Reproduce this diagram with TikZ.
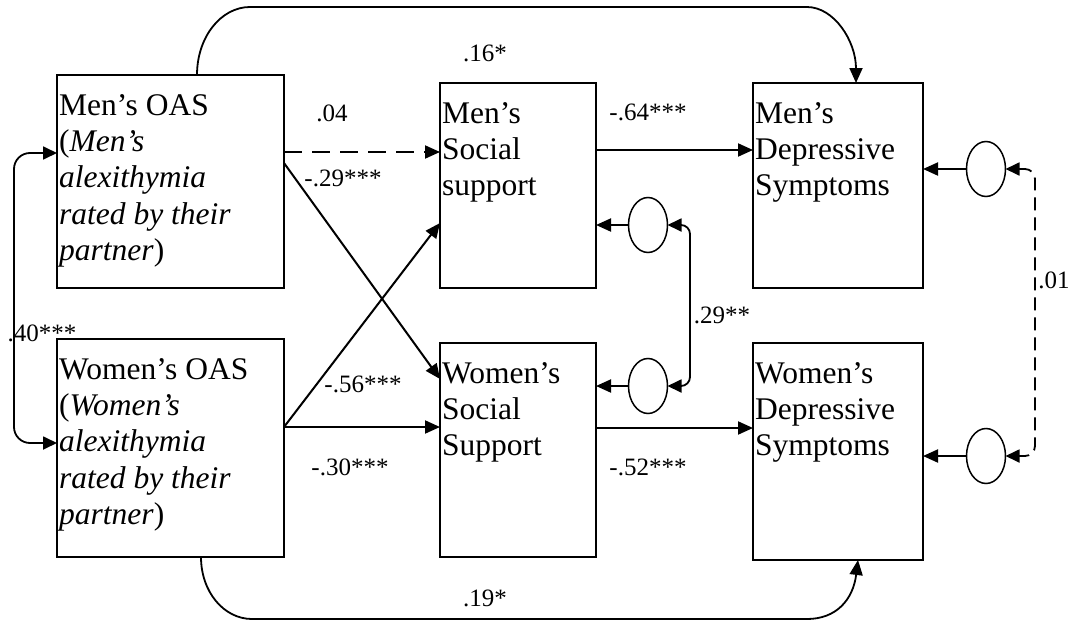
\documentclass[tikz,border=0pt]{standalone}
\usepackage{fontspec}
\setmainfont{Liberation Serif}
\usetikzlibrary{arrows.meta,shapes.geometric}
\begin{document}
\begin{tikzpicture}[x=1pt,y=-1pt,
  box/.style={draw, line width=2pt, rectangle, inner sep=0pt, outer sep=0pt},
  boxtext/.style={anchor=north west, inner sep=0pt, align=left,
    font=\fontsize{31.5}{36.3}\selectfont},
  lab/.style={inner sep=0pt, font=\fontsize{25}{30}\selectfont},
  err/.style={draw, ellipse, line width=1.5pt, minimum width=39pt,
    minimum height=55pt, inner sep=0pt, outer sep=0pt},
  tip/.style={-{Triangle[length=15pt,width=13pt]}},
  arr/.style={line width=2pt, tip},
  curvearr/.style={line width=1.8pt, tip},
  darr/.style={line width=1.8pt, {Triangle[length=14pt,width=13pt]}-{Triangle[length=14pt,width=13pt]}},
  longdash/.style={dash pattern=on 18pt off 10pt},
  shortdash/.style={dash pattern=on 13pt off 7pt}
]
\fill[white] (0,0) rectangle (1073,621);
\useasboundingbox (0,0) rectangle (1073,621);

% observed variables
\node[box, minimum width=227pt, minimum height=213pt] (MO) at (170.5,181.5) {};
\node[box, minimum width=227pt, minimum height=218pt] (WO) at (170.5,448) {};
\node[box, minimum width=156pt, minimum height=205pt] (MS) at (518,185.5) {};
\node[box, minimum width=156pt, minimum height=214pt] (WS) at (518,450) {};
\node[box, minimum width=170pt, minimum height=205pt] (MD) at (838,185.5) {};
\node[box, minimum width=170pt, minimum height=217pt] (WD) at (838,451.5) {};

% box captions
\node[boxtext] (MOt) at ([xshift=2pt,yshift=-14.5pt]MO.north west)
  {\strut Men’s OAS\\(\textit{Men’s}\\\textit{alexithymia}\\\textit{rated by their}\\\textit{partner})};
\node[boxtext] (WOt) at ([xshift=2pt,yshift=-14.5pt]WO.north west)
  {\strut Women’s OAS\\(\textit{Women’s}\\\textit{alexithymia}\\\textit{rated by their}\\\textit{partner})};
\node[boxtext] (MSt) at ([xshift=2pt,yshift=-14.5pt]MS.north west)
  {\strut Men’s\\Social\\support};
\node[boxtext] (WSt) at ([xshift=2pt,yshift=-14.5pt]WS.north west)
  {\strut Women’s\\Social\\Support};
\node[boxtext] (MDt) at ([xshift=2pt,yshift=-14.5pt]MD.north west)
  {\strut Men’s\\Depressive\\Symptoms};
\node[boxtext] (WDt) at ([xshift=2pt,yshift=-14.5pt]WD.north west)
  {\strut Women’s\\Depressive\\Symptoms};

% residual terms
\node[err] (E1) at (648,225) {};
\node[err] (E2) at (648,386) {};
\node[err] (E3) at (986,169) {};
\node[err] (E4) at (986,456) {};

% direct paths
\draw[arr, longdash] (MO.east |- 0,152) -- (MS.west |- 0,152);
\draw[arr] (MO.east |- 0,163) -- (WS.west |- 0,379);
\draw[arr] (WO.east |- 0,427) -- (MS.west |- 0,223);
\draw[arr] (WO.east |- 0,427) -- (WS.west |- 0,427);
\draw[arr] (MS.east |- 0,150) -- (MD.west |- 0,150);
\draw[arr] (WS.east |- 0,428) -- (WD.west |- 0,428);

% residuals to their variables
\draw[arr] (E1.west) -- (E1.west -| MS.east);
\draw[arr] (E2.west) -- (E2.west -| WS.east);
\draw[arr] (E3.west) -- (E3.west -| MD.east);
\draw[arr] (E4.west) -- (E4.west -| WD.east);

% covariances
\draw[darr, rounded corners=16pt] (MO.west |- 0,153) -- (14,153) -- (14,443) -- (WO.west |- 0,443);
\draw[darr, rounded corners=9pt] (E1.east) -- (E1.east -| 690,0) -- (E2.east -| 690,0) -- (E2.east);
\draw[darr, shortdash, rounded corners=10pt] (E3.east) -- (E3.east -| 1035,0) -- (E4.east -| 1035,0) -- (E4.east);

% long paths around the model
\draw[curvearr] (MO.north -| 197,0) .. controls (197,37) and (221,7) .. (250,7)
  -- (807,7) .. controls (834,7) and (856,41) .. (MD.north -| 856,0);
\draw[curvearr] (WO.south -| 201,0) .. controls (201,592) and (224,619) .. (252,619)
  -- (807,619) .. controls (836,619) and (853,600) .. (WD.south -| 858,0);

% coefficients
\node[lab] (c16) at (485,53) {.16*};
\node[lab] (c04) at (332,113) {.04};
\node[lab] (c29) at (343,178) {-.29***};
\node[lab] (c64) at (648,112) {-.64***};
\node[lab] (c29b) at (722,315) {.29**};
\node[lab] (c01) at (1054,280) {.01};
\node[lab] (c40) at (42,333) {.40***};
\node[lab] (c56) at (363,384) {-.56***};
\node[lab] (c30) at (350,467) {-.30***};
\node[lab] (c52) at (648,467) {-.52***};
\node[lab] (c19) at (485,598) {.19*};
\end{tikzpicture}
\end{document}
